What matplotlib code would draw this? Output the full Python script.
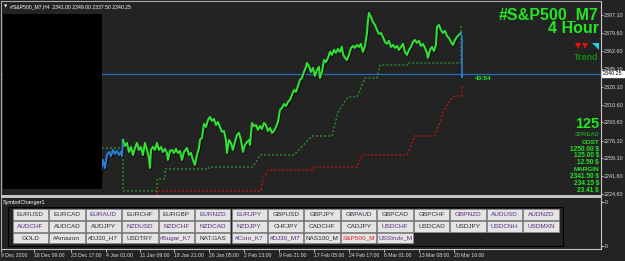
import numpy as np
import matplotlib.pyplot as plt
import matplotlib.patheffects as pe
from matplotlib.patches import Rectangle, Polygon

plt.rcParams['font.family'] = ['Liberation Sans Narrow', 'Liberation Sans', 'DejaVu Sans']

# --- data -------------------------------------------------------------------
symbol = '#S&P500_M7'
header = '#S&P500_M7,H4  2341.00 2349.00 2337.50 2340.25'
bid = 2340.25

# first part of the close line (drawn blue)
blue_x = [97, 99, 100, 101, 103, 105, 107, 109, 111, 113, 115, 117, 119, 121, 122, 123]
blue_y = [2233.3, 2252.6, 2236.2, 2245.8, 2257.4, 2249.7, 2262.2, 2265.1, 2261.2, 2267.0,
          2263.2, 2266.0, 2262.2, 2265.1, 2261.2, 2276.6]

# close line (green)
green_x = [123, 125, 127, 129, 131, 133, 135, 137, 139, 141, 143, 145, 147, 149, 150, 151,
           153, 155, 157, 159, 161, 163, 165, 167, 168, 170, 172, 174, 176, 178, 180, 182,
           184, 187, 189, 191, 193, 195, 197, 199, 200, 202, 204, 206, 208, 210, 212, 214,
           216, 218, 220, 222, 224, 226, 227, 229, 231, 233, 235, 237, 239, 241, 243, 245,
           247, 249, 250, 252, 254, 256, 258, 260, 262, 264, 266, 268, 270, 272, 274, 276,
           278, 280, 282, 284, 286, 288, 290, 292, 294, 296, 298, 300, 302, 304, 306, 307,
           309, 311, 313, 315, 317, 319, 320, 322, 324, 326, 328, 330, 332, 334, 336, 338,
           340, 342, 343, 345, 347, 349, 351, 353, 355, 357, 359, 361, 363, 365, 367, 368,
           369, 371, 373, 375, 377, 379, 381, 383, 385, 387, 389, 391, 393, 395, 397, 399,
           401, 403, 405, 407, 409, 411, 413, 415, 417, 419, 421, 423, 425, 427, 428, 430,
           432, 434, 436, 437, 439, 441, 443, 445, 447, 449, 451, 453, 455, 457, 459, 461]
green_y = [2276.6, 2270.9, 2273.8, 2265.1, 2269.9, 2262.2, 2268.9, 2273.8, 2267.0, 2269.9,
           2262.2, 2273.8, 2267.0, 2259.3, 2249.7, 2267.0, 2269.9, 2267.0, 2273.8, 2267.0,
           2269.9, 2265.1, 2268.0, 2264.1, 2257.4, 2266.0, 2267.0, 2264.1, 2268.0, 2264.1,
           2266.0, 2257.4, 2265.1, 2268.9, 2262.2, 2264.1, 2257.4, 2252.6, 2262.2, 2268.9,
           2276.6, 2278.6, 2292.1, 2289.2, 2295.9, 2298.8, 2295.0, 2296.9, 2291.1, 2294.0,
           2289.2, 2284.4, 2285.3, 2276.6, 2264.1, 2276.6, 2273.8, 2267.0, 2274.7, 2281.5,
           2283.4, 2276.6, 2265.1, 2271.8, 2274.7, 2276.6, 2271.8, 2293.0, 2290.1, 2291.1,
           2286.3, 2290.1, 2287.2, 2293.0, 2291.1, 2285.3, 2288.2, 2283.4, 2285.3, 2289.2,
           2294.0, 2305.6, 2307.5, 2311.3, 2309.4, 2313.3, 2315.2, 2320.0, 2324.8, 2322.9,
           2328.7, 2334.5, 2336.4, 2342.2, 2347.0, 2350.8, 2348.0, 2342.2, 2346.0, 2338.3,
           2344.1, 2347.0, 2336.4, 2342.2, 2353.7, 2351.8, 2355.7, 2361.5, 2358.6, 2363.4,
           2360.5, 2364.3, 2361.5, 2366.3, 2359.5, 2355.7, 2353.7, 2358.6, 2365.3, 2367.2,
           2365.3, 2368.2, 2366.3, 2369.2, 2361.5, 2367.2, 2379.8, 2392.3, 2399.0, 2395.2,
           2390.4, 2387.5, 2382.6, 2378.8, 2379.8, 2375.9, 2371.1, 2369.2, 2372.1, 2366.3,
           2368.2, 2365.3, 2367.2, 2363.4, 2366.3, 2369.2, 2361.5, 2358.6, 2363.4, 2366.3,
           2371.1, 2373.0, 2370.1, 2372.1, 2367.2, 2369.2, 2365.3, 2360.5, 2355.7, 2363.4,
           2366.3, 2362.4, 2368.2, 2385.5, 2387.5, 2382.6, 2379.8, 2381.7, 2376.9, 2374.9,
           2371.1, 2368.2, 2373.0, 2375.9, 2377.8, 2379.8]

# last (current) bar
last_x = [461, 462, 462, 462]
last_y = [2379.8, 2374.9, 2337.4, 2340.25]

# trailing stop lines
stop_g_x = [102, 123, 123, 157, 157, 165, 165, 209, 209, 253, 260, 294, 312, 332, 338, 348,
            357, 365, 377, 380, 408, 408, 461, 461]
stop_g_y = [2268.9, 2268.9, 2227.5, 2227.5, 2239.1, 2239.1, 2248.7, 2248.7, 2250.6, 2250.6,
            2262.2, 2262.2, 2280.5, 2280.5, 2303.6, 2318.1, 2318.1, 2336.4, 2336.4, 2348.9,
            2348.9, 2350.8, 2350.8, 2388.4]
stop_r_x = [157, 158, 261, 263, 268, 313, 313, 357, 362, 407, 415, 435, 443, 448, 452, 455,
            462, 462]
stop_r_y = [2223.6, 2227.5, 2227.5, 2239.1, 2247.7, 2247.7, 2250.6, 2250.6, 2262.2, 2262.2,
            2280.5, 2280.5, 2302.7, 2312.3, 2317.1, 2319.1, 2319.1, 2329.7]

price_ticks = [2397.10, 2379.60, 2362.60, 2345.10, 2328.10, 2310.60, 2293.60, 2276.10,
               2259.10, 2241.60, 2224.60]
time_ticks = [1, 34, 71, 106, 140, 174, 209, 244, 279, 314, 349, 384, 419, 454]
time_labels = ['9 Dec 2016', '16 Dec 09:00', '23 Dec 17:00', '4 Jan 01:00', '11 Jan 09:00',
               '18 Jan 21:00', '26 Jan 05:00', '2 Feb 13:00', '9 Feb 21:00', '17 Feb 05:00',
               '24 Feb 17:00', '6 Mar 01:00', '13 Mar 08:00', '20 Mar 16:00']

spread = '125'
cost = ['1250.00 $', '125.00 $', '12.50 $']
margin = ['2341.50 $', '234.15 $', '23.41 $']
timer = '43:54'

row1 = ['EURUSD', 'EURCAD', 'EURAUD', 'EURCHF', 'EURGBP', 'EURNZD', 'EURJPY', 'GBPUSD',
        'GBPJPY', 'GBPAUD', 'GBPCAD', 'GBPCHF', 'GBPNZD', 'AUDUSD', 'AUDNZD']
row2 = ['AUDCHF', 'AUDCAD', 'AUDJPY', 'NZDUSD', 'NZDCHF', 'NZDCAD', 'NZDJPY', 'CHFJPY',
        'CADCHF', 'CADJPY', 'USDCHF', 'USDCAD', 'USDJPY', 'USDCNH', 'USDMXN']
row3 = ['GOLD', '#Amazon', '#DJ30_H7', 'USDTRY', '#Sugar_K7', 'NAT.GAS', '#Corn_K7',
        '#DJ30_M7', 'NAS100_M', 'S&P500_M', 'USSIndx_M']
purple = {'EURAUD', 'EURNZD', 'EURJPY', 'AUDCHF', 'NZDUSD', 'NZDCHF', 'NZDCAD', 'NZDJPY',
          'GBPNZD', 'AUDUSD', 'AUDNZD', 'USDCHF', 'USDCNH', 'USDMXN', '#Sugar_K7',
          '#Corn_K7', '#DJ30_M7', 'USSIndx_M'}

# --- figure -------------------------------------------------------------------
W, H = 625, 261
bg = '#232323'
fg = '#dcdcdc'
fig = plt.figure(figsize=(6.25, 2.61), dpi=100, facecolor=bg)

# main price window (pixel rows 2..197)
ax = fig.add_axes([1 / W, (H - 197) / H, 600 / W, 195 / H], facecolor=bg)
ax.set_xlim(1, 601)
ax.set_ylim(2221.7, 2409.6)

shadow = [pe.SimpleLineShadow(offset=(0.6, -0.6), shadow_color='black', alpha=0.9), pe.Normal()]
ax.axhline(bid, color='#1f6fc4', lw=0.9, zorder=1)
ax.plot(stop_g_x, stop_g_y, color='#2f9a2f', lw=0.9, ls=(0, (1.6, 1.6)), zorder=2)
ax.plot(stop_r_x, stop_r_y, color='#c81414', lw=0.9, ls=(0, (1.6, 1.6)), zorder=2)
ax.plot(blue_x, blue_y, color='#2a7fd0', lw=1.5, zorder=3, path_effects=shadow)
ax.plot(green_x, green_y, color='#33e033', lw=1.5, zorder=4, path_effects=shadow)
ax.plot(last_x, last_y, color='#2a7fd0', lw=1.2, zorder=4)

ax.set_xticks([])
ax.yaxis.tick_right()
ax.set_yticks(price_ticks)
ax.set_yticklabels(['%.2f' % p for p in price_ticks])
ax.tick_params(axis='y', colors=fg, labelsize=3.9, length=1.5, width=0.6, pad=0.8)
for s in ['left', 'top', 'bottom']:
    ax.spines[s].set_visible(False)
ax.spines['right'].set_color('#c8c8c8')
ax.spines['right'].set_linewidth(0.8)

ax.annotate('%.2f' % bid, xy=(1, bid), xycoords=('axes fraction', 'data'),
            xytext=(1.5, 0), textcoords='offset points', va='center', ha='left',
            fontsize=3.9, color='black',
            bbox=dict(boxstyle='square,pad=0.15', fc='white', ec='white'))

# symbol changer sub window (pixel rows 198..249)
sub = fig.add_axes([1 / W, (H - 249) / H, 600 / W, 51 / H], facecolor=bg)
sub.set_xlim(1, 601)
sub.set_ylim(0, 51)
sub.xaxis.tick_bottom()
sub.set_xticks(time_ticks)
sub.set_xticklabels(time_labels, ha='left')
sub.yaxis.tick_right()
sub.set_yticks([3, 47])
sub.set_yticklabels(['0', '0'])
sub.tick_params(colors=fg, labelsize=3.7, length=2, width=0.6, pad=0.8)
for s in ['left', 'top']:
    sub.spines[s].set_visible(False)
for s in ['right', 'bottom']:
    sub.spines[s].set_color('#c8c8c8')
    sub.spines[s].set_linewidth(0.8)

# overlay in pixel coordinates for the terminal decorations
ov = fig.add_axes([0, 0, 1, 1])
ov.set_xlim(0, W)
ov.set_ylim(H, 0)
ov.axis('off')
ov.patch.set_visible(False)

ov.add_patch(Rectangle((3, 14), 99, 175, fc='black', ec='none', zorder=5))
ov.plot([1, 601], [1.2, 1.2], color='#a8a8a8', lw=0.8)
ov.plot([1.2, 1.2], [1, 249], color='#a8a8a8', lw=0.8)
ov.add_patch(Rectangle((1, 195.3), 600.5, 2.6, fc='#c4c4c4', ec='none', zorder=6))

ov.text(4, 6.5, '\u25bc', fontsize=3, color='white', va='center', ha='left',
        family='DejaVu Sans')
ov.text(10, 6.5, header, fontsize=3.7, color='white', va='center', ha='left')

green = '#22e622'
ov.text(599, 19.5, symbol, fontsize=11.5, weight='bold', color=green, ha='right',
        va='baseline', family='Liberation Sans')
ov.text(599, 33, '4 Hour', fontsize=11.5, weight='bold', color=green, ha='right',
        va='baseline', family='Liberation Sans')
ov.plot([577.5, 585], [45.5, 45.5], 'v', color='#e01010', ms=4.2, mew=0)
ov.add_patch(Polygon([(591.5, 43), (598.5, 43), (598.5, 49.5)], closed=True,
                     fc='#20d0e0', ec='none'))
ov.text(598.5, 60.5, 'Trend', fontsize=6.5, weight='bold', color='#128a12', ha='right',
        va='baseline', family='Liberation Sans')
ov.text(475, 79.5, timer, fontsize=4.6, weight='bold', color=green, ha='left', va='baseline')

ov.text(599, 128.5, spread, fontsize=10.5, weight='bold', color=green, ha='right',
        va='baseline', family='Liberation Sans')
ov.text(599, 136.5, 'SPREAD', fontsize=4.3, color='#20c820', ha='right', va='baseline')
ov.text(599, 143.5, 'COST', fontsize=4.6, weight='bold', color=green, ha='right',
        va='baseline')
for i, s in enumerate(cost):
    ov.text(599, 150.5 + 6.6 * i, s, fontsize=4.7, weight='bold', color=green,
            ha='right', va='baseline')
ov.text(599, 171, 'MARGIN', fontsize=4.6, weight='bold', color=green, ha='right',
        va='baseline')
for i, s in enumerate(margin):
    ov.text(599, 178 + 6.9 * i, s, fontsize=4.7, weight='bold', color=green,
            ha='right', va='baseline')

# symbol changer panel
ov.text(3, 202.5, 'SymbolChanger1', fontsize=4.0, color='white', ha='left', va='center')
ov.add_patch(Rectangle((8, 206.5), 555, 39, fc='none', ec='black', lw=0.8))
pitch = 36.47
for r, row in enumerate([row1, row2, row3]):
    y0 = 209.3 + r * 11.7
    for i, name in enumerate(row):
        x0 = 12.7 + i * pitch
        box = Rectangle((x0, y0), 35.4, 10.6, fc='#e4e4e4', ec='#8c8c8c', lw=0.5)
        ov.add_patch(box)
        col = '#5a2e7c' if name in purple else '#2c2c3c'
        if name == 'S&P500_M':
            col = '#ee2222'
        t = ov.text(x0 + 17.7, y0 + 5.5, name, fontsize=4.6, color=col, ha='center',
                    va='center')
        t.set_clip_path(box)

fig.savefig('out.png', dpi=100, facecolor=bg)
